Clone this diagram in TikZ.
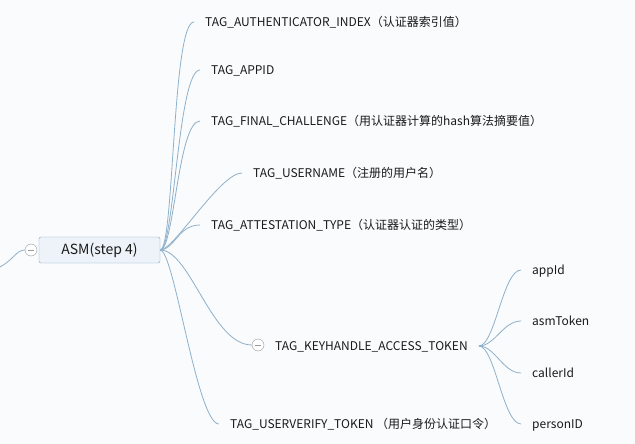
\documentclass[tikz,border=0pt]{standalone}
\usepackage{fontspec}
\setmainfont{Noto Sans CJK SC}
\usetikzlibrary{calc}
\definecolor{bgcol}{HTML}{FAFBFC}
\definecolor{linecol}{HTML}{8EB1CB}
\definecolor{boxfill}{HTML}{EDF3F8}
\definecolor{boxline}{HTML}{7EA6C6}
\definecolor{foldcol}{HTML}{9A9A9A}
\definecolor{txtcol}{HTML}{1A1A1A}

\tikzset{
  topic/.style={draw=boxline, fill=boxfill, rounded corners=2pt, minimum width=121pt,
    minimum height=26pt, inner sep=0pt, text=txtcol, font=\fontsize{14}{16}\selectfont},
  leaf/.style={anchor=west, inner ysep=0pt, inner xsep=11pt, text height=8.6pt,
    text depth=0pt, text=txtcol, font=\fontsize{12}{14}\selectfont},
  branch/.style={draw=linecol, line width=0.8pt},
  fold/.style={circle, draw=foldcol, fill=white, minimum size=12pt, inner sep=0pt},
}

\begin{document}
\begin{tikzpicture}[x=1pt,y=-1pt]
  \fill[bgcol] (0,0) rectangle (635,444);
  \useasboundingbox (0,0) rectangle (635,444);

  % main topic and its fold button
  \node[topic] (asm) at (99.5,250) {ASM(step 4)};
  \node[fold] (f0) at (31,250) {};
  \draw[foldcol] ([xshift=3pt]f0.west) -- ([xshift=-3pt]f0.east);
  \coordinate (parent) at (-2,268);
  \draw[branch] (parent) .. controls (14,260) and (16,250) .. (f0.west);

  % the tags
  \node[leaf] (aidx)  at (194,22)  {TAG\_AUTHENTICATOR\_INDEX（认证器索引值）};
  \node[leaf] (appid) at (200,70)  {TAG\_APPID};
  \node[leaf] (chal)  at (200,121) {TAG\_FINAL\_CHALLENGE（用认证器计算的hash算法摘要值）};
  \node[leaf] (uname) at (242,173) {TAG\_USERNAME（注册的用户名）};
  \node[leaf] (atype) at (200,225) {TAG\_ATTESTATION\_TYPE（认证器认证的类型）};
  \node[fold] (f1) at (258,345) {};
  \draw[foldcol] ([xshift=3pt]f1.west) -- ([xshift=-3pt]f1.east);
  \node[leaf] (khat)  at (264,346) {TAG\_KEYHANDLE\_ACCESS\_TOKEN};
  \node[leaf] (uver)  at (219,424) {TAG\_USERVERIFY\_TOKEN （用户身份认证口令）};

  \foreach \n in {aidx,appid,chal,uname,atype,uver}
    \draw[branch] (asm.east) .. controls +(14,0) and +(-22,0) .. (\n.west);
  \draw[branch] (asm.east) .. controls +(30,0) and +(-40,0) .. (f1.west);

  % children of the access token
  \node[leaf] (appId)    at (521,270) {appId};
  \node[leaf] (asmToken) at (521,321) {asmToken};
  \node[leaf] (callerId) at (521,373) {callerId};
  \node[leaf] (personID) at (521,424) {personID};

  \foreach \n in {appId,asmToken,callerId,personID}
    \draw[branch] (khat.east) .. controls +(16,0) and +(-18,0) .. (\n.west);
\end{tikzpicture}
\end{document}
